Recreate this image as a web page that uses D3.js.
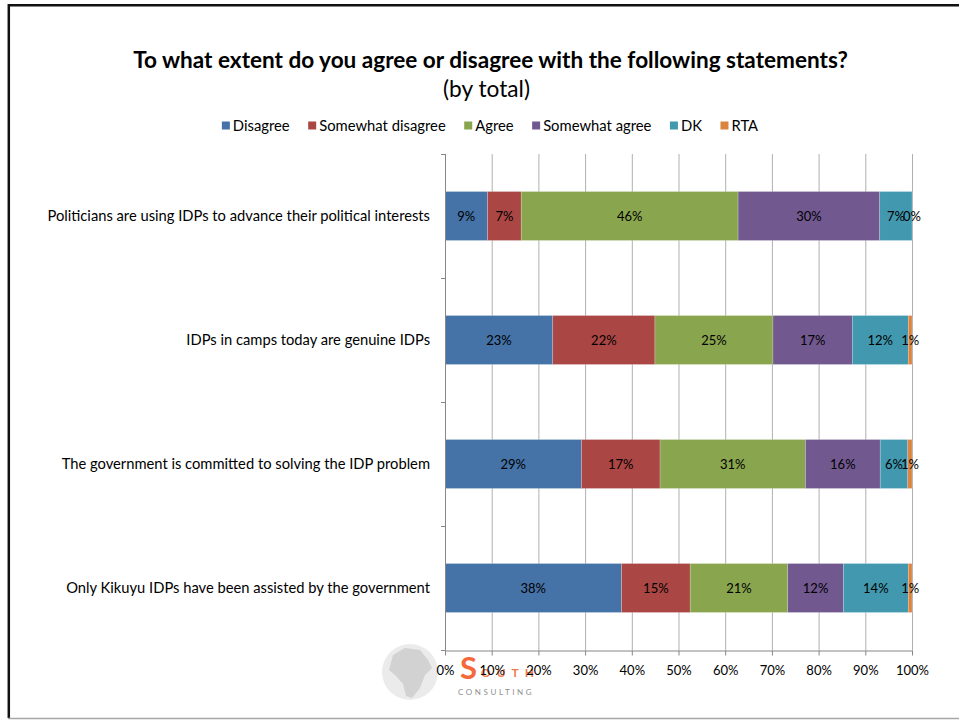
<!DOCTYPE html>
<html><head><meta charset="utf-8">
<script src="https://cdn.jsdelivr.net/npm/d3@7/dist/d3.min.js"></script>
<style>body{margin:0;background:#fff}svg{display:block}text{font-family:Lato,"Open Sans",sans-serif}</style>
</head><body>
<svg id="c" width="959" height="721"></svg>
<script>
const categories = [
  "Politicians are using IDPs to advance their political interests",
  "IDPs in camps today are genuine IDPs",
  "The government is committed to solving the IDP problem",
  "Only Kikuyu IDPs have been assisted by the government"
];
const seriesNames = ["Disagree","Somewhat disagree","Agree","Somewhat agree","DK","RTA"];
const disagree         = [9.1, 23.1, 29.2, 37.8];
const somewhatDisagree = [7.2, 21.9, 16.8, 14.7];
const agree            = [46.4, 25.3, 31.1, 20.9];
const somewhatAgree    = [30.3, 17.0, 16.0, 11.9];
const dk               = [6.9, 12.0, 5.9, 13.9];
const rta              = [0.0, 0.8, 0.9, 0.8];
const xTicks = [0,10,20,30,40,50,60,70,80,90,100];
const colors = ["#4572A7","#AA4643","#89A54E","#71588F","#4198AF","#DB843D"];
const titleText = "To what extent do you agree or disagree with the following statements?";
const subtitleText = "(by total)";

const seriesVals = [disagree, somewhatDisagree, agree, somewhatAgree, dk, rta];
const table = categories.map((c,i)=>{const o={cat:c}; seriesNames.forEach((s,j)=>o[s]=seriesVals[j][i]); return o;});

const svg = d3.select("#c");
function fit(sel, target){ const w = sel.node().getComputedTextLength(); const fs = parseFloat(sel.attr("font-size")); sel.attr("font-size", fs*target/w); }

// frame
svg.append("line").attr("x1",8).attr("x2",959).attr("y1",5.2).attr("y2",5.2).attr("stroke","#111").attr("stroke-width",2.5);
svg.append("line").attr("x1",8.8).attr("x2",8.8).attr("y1",4).attr("y2",718).attr("stroke","#111").attr("stroke-width",2.5);
svg.append("line").attr("x1",8).attr("x2",959).attr("y1",718.5).attr("y2",718.5).attr("stroke","#a6a6a6").attr("stroke-width",1.5);

// title
const t = svg.append("text").attr("x",490.5).attr("y",68).attr("text-anchor","middle").attr("font-weight","bold").attr("font-size",20).attr("fill","#000").text(titleText);
fit(t,715);
const st = svg.append("text").attr("x",486.5).attr("y",97).attr("text-anchor","middle").attr("font-size",20).attr("fill","#000").text(subtitleText);
fit(st,87);

// legend
const lg = svg.append("g");
let lx = 0; const items=[];
seriesNames.forEach((s,i)=>{
  const g = lg.append("g");
  g.append("rect").attr("x",lx).attr("y",-4.5).attr("width",8).attr("height",8).attr("fill",colors[i]);
  const tx = g.append("text").attr("x",lx+11).attr("y",0).attr("dy","0.35em").attr("font-size",13.5).attr("fill","#000").text(s);
  items.push(tx);
});
const probe = items[1]; const w1 = probe.node().getComputedTextLength(); const lfs = 13.5*126.6/w1;
items.forEach(tx=>tx.attr("font-size",lfs));
lx = 0;
lg.selectAll("g").each(function(d,i){
  const g=d3.select(this); g.select("rect").attr("x",lx); const tx=g.select("text").attr("x",lx+11);
  lx += 11 + tx.node().getComputedTextLength() + 18.5;
});
const totalW = lx - 18.5;
lg.attr("transform",`translate(${490-totalW/2},126)`);

// scales
const x = d3.scaleLinear().domain([0,100]).range([445,912]);
const y = d3.scaleBand().domain(categories).range([154,650]).paddingInner(0.605).paddingOuter(0.3025);

// logo watermark
const logo = svg.append("g");
logo.append("circle").attr("cx",410).attr("cy",672).attr("r",28).attr("fill","#ebebeb");
logo.append("path").attr("d","M393,655 L405,648 L420,650 L428,660 L432,668 L425,675 L420,688 L412,698 L406,696 L403,684 L396,676 L389,670 Z").attr("fill","#d2d2d2");
logo.append("text").attr("x",460).attr("y",679).attr("font-size",31).attr("font-weight","bold").attr("fill","#f4683a").text("S");
logo.append("text").attr("x",481).attr("y",677).attr("font-size",12).attr("font-weight","bold").attr("letter-spacing",6).attr("fill","#f27a50").text("OUTH");
logo.append("text").attr("x",458).attr("y",695).attr("font-size",8).attr("letter-spacing",2.6).attr("fill","#8f8f8f").text("CONSULTING");

// gridlines
svg.append("g").selectAll("line").data(xTicks.slice(1)).join("line")
  .attr("x1",d=>x(d)+0.5).attr("x2",d=>x(d)+0.5).attr("y1",154).attr("y2",650).attr("stroke","#b0b0b0").attr("stroke-width",1);

// bars
const stack = d3.stack().keys(seriesNames).offset(d3.stackOffsetExpand);
const layers = stack(table);
const bars = svg.append("g");
layers.forEach((layer,i)=>{
  bars.append("g").selectAll("rect").data(layer).join("rect")
    .attr("x",d=>x(d[0]*100)).attr("width",d=>x(d[1]*100)-x(d[0]*100))
    .attr("y",d=>y(d.data.cat)).attr("height",y.bandwidth())
    .attr("fill",colors[i]).attr("stroke","#fff").attr("stroke-opacity",0.35).attr("stroke-width",0.6);
});
layers.forEach((layer,i)=>{
  bars.append("g").selectAll("text").data(layer).join("text")
    .attr("x",d=>(x(d[0]*100)+x(d[1]*100))/2).attr("y",d=>y(d.data.cat)+y.bandwidth()/2)
    .attr("dy","0.36em").attr("text-anchor","middle").attr("font-size",13).attr("fill","#000")
    .text(d=>Math.round(d.data[layer.key])+"%");
});

// axes
const ax = svg.append("g").attr("transform","translate(0,650.5)")
  .call(d3.axisBottom(x).tickValues(xTicks).tickFormat(d=>d+"%").tickSize(5).tickSizeOuter(0));
ax.select(".domain").attr("stroke","#868686");
ax.selectAll(".tick line").attr("stroke","#868686");
ax.selectAll(".tick text").attr("font-family","Lato").attr("font-size",13).attr("fill","#000").attr("y",15);

const yTickPos = d3.range(5).map(i=>154 + i*y.step());
const ayg = svg.append("g");
ayg.append("line").attr("x1",445.5).attr("x2",445.5).attr("y1",154).attr("y2",650.5).attr("stroke","#868686");
ayg.selectAll("line.t").data(yTickPos).join("line").attr("class","t")
  .attr("x1",441).attr("x2",445.5).attr("y1",d=>Math.round(d)+0.5).attr("y2",d=>Math.round(d)+0.5).attr("stroke","#868686");

const cl = svg.append("g").selectAll("text").data(categories).join("text")
  .attr("x",430).attr("y",d=>y(d)+y.bandwidth()/2).attr("dy","0.35em").attr("text-anchor","end")
  .attr("font-size",14).attr("fill","#000").text(d=>d);
const lw = cl.nodes()[0].getComputedTextLength();
cl.attr("font-size",14*383/lw);
</script>
</body></html>
